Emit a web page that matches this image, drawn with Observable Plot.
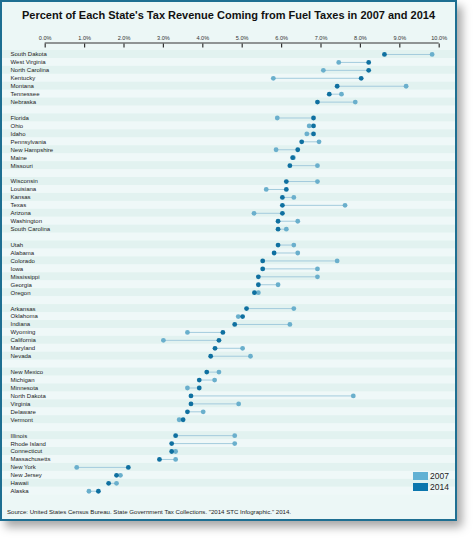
<!DOCTYPE html>
<html><head><meta charset="utf-8">
<script src="https://cdn.jsdelivr.net/npm/d3@7"></script>
<script src="https://cdn.jsdelivr.net/npm/@observablehq/plot@0.6"></script>
<style>
html,body{margin:0;padding:0;background:#fff;width:474px;height:538px;overflow:hidden;font-family:"Liberation Sans",Arial,sans-serif;}
#card{position:absolute;left:0;top:0;width:453px;height:517px;border:2px solid #1e6f92;background:#ecf7f6;box-shadow:5px 6px 9px rgba(0,0,0,0.35);}
#title{position:absolute;left:0;top:9px;width:457px;text-align:center;font-weight:bold;font-size:11px;line-height:13px;color:#111;white-space:nowrap;}
#chart{position:absolute;left:0;top:0;}
#caption{position:absolute;left:7px;top:508px;font-size:6.1px;line-height:7px;color:#222;white-space:nowrap;}
.lg{position:absolute;left:413px;width:15px;height:8px;}
.lt{position:absolute;left:430px;font-size:8.5px;line-height:10px;color:#222;}
</style></head>
<body>
<div id="card"></div>
<div id="title">Percent of Each State's Tax Revenue Coming from Fuel Taxes in 2007 and 2014</div>
<div id="chart"></div>
<div id="caption">Source: United States Census Bureau. State Government Tax Collections. "2014 STC Infographic." 2014.</div>
<div class="lg" style="top:471.5px;background:#62b1d4"></div><div class="lt" style="top:470.5px">2007</div>
<div class="lg" style="top:482.5px;background:#0b76ad"></div><div class="lt" style="top:481.5px">2014</div>
<script>
const states = ["South Dakota","West Virginia","North Carolina","Kentucky","Montana","Tennessee","Nebraska",
"Florida","Ohio","Idaho","Pennsylvania","New Hampshire","Maine","Missouri",
"Wisconsin","Louisiana","Kansas","Texas","Arizona","Washington","South Carolina",
"Utah","Alabama","Colorado","Iowa","Mississippi","Georgia","Oregon",
"Arkansas","Oklahoma","Indiana","Wyoming","California","Maryland","Nevada",
"New Mexico","Michigan","Minnesota","North Dakota","Virginia","Delaware","Vermont",
"Illinois","Rhode Island","Connecticut","Massachusetts","New York","New Jersey","Hawaii","Alaska"];
const groupSizes = [7,7,7,7,7,7,8];
const pct2007 = [9.82,7.45,7.06,5.79,9.16,7.52,7.87,
5.89,6.70,6.64,6.95,5.86,6.30,6.91,
6.91,5.61,6.31,7.61,5.30,6.41,6.12,
6.31,6.41,7.41,6.91,6.91,5.91,5.41,
6.31,4.90,6.21,3.61,3.00,5.01,5.21,
4.41,4.30,3.61,7.82,4.91,4.01,3.40,
4.81,4.81,3.31,3.31,0.80,1.91,1.81,1.11];
const pct2014 = [8.61,8.21,8.21,8.02,7.41,7.21,6.91,
6.81,6.81,6.81,6.51,6.41,6.28,6.21,
6.12,6.12,6.02,6.02,6.02,5.91,5.91,
5.91,5.81,5.52,5.52,5.41,5.41,5.31,
5.11,5.01,4.81,4.51,4.41,4.31,4.20,
4.10,3.91,3.91,3.70,3.70,3.61,3.50,
3.31,3.21,3.21,2.90,2.11,1.81,1.61,1.35];
const xTicks = [0,1,2,3,4,5,6,7,8,9,10];
const xTickLabels = ["0.0%","1.0%","2.0%","3.0%","4.0%","5.0%","6.0%","7.0%","8.0%","9.0%","10.0%"];

// build rows (states + blank separator rows)
const rows = [];
let k = 0;
groupSizes.forEach((n, g) => {
  if (g > 0) rows.push({key: "gap" + g, state: null});
  for (let i = 0; i < n; i++, k++) rows.push({key: states[k], state: states[k], v2007: pct2007[k], v2014: pct2014[k]});
});
rows.forEach((r, i) => r.idx = i);
const data = rows.filter(r => r.state);

const yRange = [50.0, 494.7];
const band = (yRange[1] - yRange[0]) / rows.length;
const axisY = 42.5;

const chart = Plot.plot({
  width: 474, height: 538,
  marginLeft: 2, marginRight: 19, marginTop: axisY, marginBottom: 43,
  style: {background: "transparent", fontFamily: "'Liberation Sans', Arial, sans-serif", overflow: "visible"},
  x: {domain: [0, 10], range: [44.7, 438.7]},
  y: {domain: rows.map(r => r.key), range: yRange, padding: 0, axis: null},
  marks: [
    Plot.cell(rows, {y: "key", fill: r => r.idx % 2 ? "#eff8f8" : "#e2f2f0", inset: 0}),
    Plot.ruleY([rows[0].key], {x1: 0, x2: 10, dy: axisY - (yRange[0] + band / 2), stroke: "#333", strokeWidth: 1.2}),
    Plot.axisX({anchor: "top", ticks: xTicks, tickSize: 4, dy: 4, tickFormat: () => "", stroke: "#333", strokeWidth: 1.2}),
    Plot.axisX({anchor: "top", ticks: xTicks, tickSize: 0, tickPadding: 3, tickFormat: (d, i) => xTickLabels[xTicks.indexOf(d)], fontSize: 5.6, fill: "#333"}),
    Plot.text(data, {y: "key", text: "state", frameAnchor: "left", textAnchor: "start", dx: 8, fontSize: 6, fill: "#222"}),
    Plot.ruleY(data, {y: "key", x1: "v2007", x2: "v2014", stroke: "#a3cbdd", strokeWidth: 1}),
    Plot.dot(data, {y: "key", x: "v2007", r: 2.4, fill: "#6aafcc"}),
    Plot.dot(data, {y: "key", x: "v2014", r: 2.4, fill: "#0f70a0"})
  ]
});
document.getElementById("chart").appendChild(chart);
</script>
</body></html>
